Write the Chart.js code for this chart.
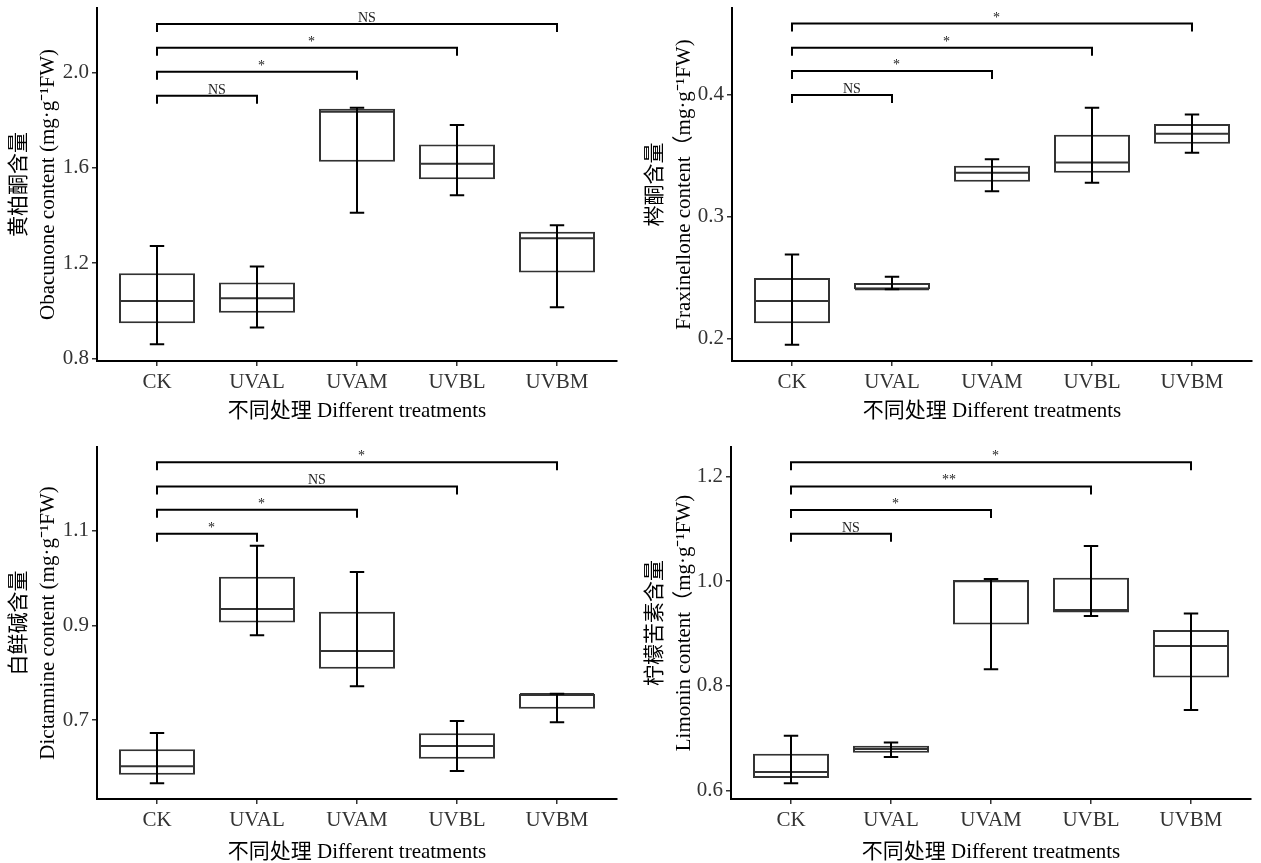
<!DOCTYPE html>
<html><head><meta charset="utf-8">
<script src="https://cdn.jsdelivr.net/npm/chart.js@4.4.0/dist/chart.umd.min.js"></script>
<style>
html,body{margin:0;padding:0;background:#fff;width:1261px;height:863px;overflow:hidden;position:relative}
.p{position:absolute}
</style></head><body>
<div class="p" style="left:0;top:0;width:630px;height:430px"><canvas id="c1"></canvas></div>
<div class="p" style="left:630px;top:0;width:631px;height:430px"><canvas id="c2"></canvas></div>
<div class="p" style="left:0;top:430px;width:630px;height:435px"><canvas id="c3"></canvas></div>
<div class="p" style="left:630px;top:430px;width:631px;height:435px"><canvas id="c4"></canvas></div>
<script>
const categories = ['CK', 'UVAL', 'UVAM', 'UVBL', 'UVBM'];

// 黄柏酮 Obacunone
const obaMin = [0.859, 0.930, 1.412, 1.485, 1.015];
const obaQ1  = [0.948, 0.992, 1.626, 1.553, 1.161];
const obaMed = [1.041, 1.053, 1.836, 1.618, 1.305];
const obaQ3  = [1.158, 1.119, 1.849, 1.699, 1.332];
const obaMax = [1.272, 1.186, 1.853, 1.780, 1.359];
const obaTicks = [0.8, 1.2, 1.6, 2.0];
const obaSigLabels = ['NS', '*', '*', 'NS'];
const obaSigHeights = [1.903, 2.004, 2.105, 2.205];

// 梣酮 Fraxinellone
const fraMin = [0.1948, 0.2403, 0.3208, 0.3277, 0.3523];
const fraQ1  = [0.2123, 0.2403, 0.3285, 0.3359, 0.3597];
const fraMed = [0.2307, 0.2403, 0.3359, 0.3444, 0.3679];
const fraQ3  = [0.2496, 0.2455, 0.3416, 0.3671, 0.3759];
const fraMax = [0.2688, 0.2505, 0.3471, 0.3893, 0.3838];
const fraTicks = [0.2, 0.3, 0.4];
const fraSigLabels = ['NS', '*', '*', '*'];
const fraSigHeights = [0.3997, 0.4195, 0.4386, 0.4584];

// 白鲜碱 Dictamnine
const dicMin = [0.5662, 0.8789, 0.7711, 0.5923, 0.6951];
const dicQ1  = [0.5845, 0.9063, 0.8085, 0.6183, 0.7240];
const dicMed = [0.6021, 0.9345, 0.8458, 0.6451, 0.7549];
const dicQ3  = [0.6380, 1.0028, 0.9289, 0.6718, 0.7549];
const dicMax = [0.6725, 1.0683, 1.0127, 0.6979, 0.7556];
const dicTicks = [0.7, 0.9, 1.1];
const dicSigLabels = ['*', '*', 'NS', '*'];
const dicSigHeights = [1.0937, 1.1444, 1.1937, 1.2450];

// 柠檬苦素 Limonin
const limMin = [0.6137, 0.6639, 0.8318, 0.9335, 0.7536];
const limQ1  = [0.6238, 0.6722, 0.9170, 0.9400, 0.8159];
const limMed = [0.6353, 0.6792, 1.0000, 0.9450, 0.8763];
const limQ3  = [0.6703, 0.6855, 1.0022, 1.0067, 0.9068];
const limMax = [0.7046, 0.6919, 1.0041, 1.0671, 0.9380];
const limTicks = [0.6, 0.8, 1.0, 1.2];
const limSigLabels = ['NS', '*', '**', '*'];
const limSigHeights = [1.0906, 1.1358, 1.1809, 1.2273];

const FONT = "'Liberation Serif', 'Noto Sans CJK SC', serif";

const boxExtras = {
  id: 'boxExtras',
  afterDatasetsDraw(chart, args, o) {
    const ctx = chart.ctx;
    const xs = chart.scales.x, ys = chart.scales.y;
    const meta = chart.getDatasetMeta(0);
    ctx.save();
    meta.data.forEach((bar, i) => {
      const w = bar.width, cx = bar.x;
      // median
      ctx.strokeStyle = '#333';
      ctx.lineWidth = 2;
      const ym = ys.getPixelForValue(o.med[i]);
      ctx.beginPath();
      ctx.moveTo(cx - w / 2 + 1, ym); ctx.lineTo(cx + w / 2 - 1, ym);
      ctx.stroke();
      // whisker
      const y0 = ys.getPixelForValue(o.min[i]);
      const y1 = ys.getPixelForValue(o.max[i]);
      const cap = w * 0.095;
      ctx.strokeStyle = '#000';
      ctx.lineWidth = 2;
      ctx.beginPath();
      ctx.moveTo(cx, y0); ctx.lineTo(cx, y1);
      ctx.moveTo(cx - cap, y0); ctx.lineTo(cx + cap, y0);
      ctx.moveTo(cx - cap, y1); ctx.lineTo(cx + cap, y1);
      ctx.stroke();
    });
    // significance brackets (CK vs each treatment)
    const xl = xs.getPixelForValue(0);
    o.sigHeights.forEach((h, j) => {
      const xr = xs.getPixelForValue(j + 1);
      const yb = ys.getPixelForValue(h);
      ctx.strokeStyle = '#000';
      ctx.lineWidth = 2;
      ctx.beginPath();
      ctx.moveTo(xl, yb + 8); ctx.lineTo(xl, yb); ctx.lineTo(xr, yb); ctx.lineTo(xr, yb + 8);
      ctx.stroke();
      ctx.fillStyle = '#222';
      ctx.font = "14px " + FONT;
      ctx.textAlign = 'left';
      ctx.textBaseline = 'alphabetic';
      ctx.fillText(o.sigLabels[j], (xl + xr) / 2 + 1, yb - 2);
    });
    ctx.restore();
  }
};

function makeChart(id, cfg) {
  const data = categories.map((c, i) => ({ x: i, y: [cfg.q1[i], cfg.q3[i]] }));
  new Chart(document.getElementById(id), {
    type: 'bar',
    data: {
      datasets: [{
        data: data,
        backgroundColor: '#ffffff',
        borderColor: '#333333',
        borderWidth: 2,
        borderSkipped: false,
        barPercentage: 0.76,
        categoryPercentage: 1.0
      }]
    },
    options: {
      responsive: true,
      maintainAspectRatio: false,
      animation: false,
      layout: { padding: { top: cfg.padTop, right: cfg.padRight, left: 0, bottom: 0 } },
      plugins: {
        legend: { display: false },
        tooltip: { enabled: false },
        boxExtras: { min: cfg.min, med: cfg.med, max: cfg.max, sigLabels: cfg.sigLabels, sigHeights: cfg.sigHeights }
      },
      scales: {
        x: {
          type: 'linear',
          offset: false,
          min: -0.6, max: 4.6,
          afterBuildTicks: s => { s.ticks = categories.map((c, i) => ({ value: i })); },
          afterFit: s => { s.height = cfg.xHeight; s.paddingLeft = 0; s.paddingRight = 0; s.paddingTop = 0; s.paddingBottom = 0; },
          ticks: {
            autoSkip: false, maxRotation: 0, padding: 4,
            color: '#333',
            font: { family: FONT, size: 21 },
            callback: v => categories[v]
          },
          grid: { display: true, drawOnChartArea: false, drawTicks: true, tickLength: 5, color: '#333', lineWidth: 1.5, offset: false },
          border: { display: true, color: '#000', width: 2 },
          title: {
            display: true, text: '不同处理 Different treatments', color: '#000',
            font: { family: FONT, size: 21, lineHeight: 1.2 },
            padding: { top: 0, bottom: cfg.xTitlePad }
          }
        },
        y: {
          min: cfg.yMin, max: cfg.yMax,
          afterBuildTicks: s => { s.ticks = cfg.ticks.map(v => ({ value: v })); },
          afterFit: s => { s.width = cfg.yWidth; s.paddingTop = 0; s.paddingBottom = 0; s.paddingLeft = 0; s.paddingRight = 0; },
          ticks: {
            padding: 3, color: '#333',
            font: { family: FONT, size: 21 },
            callback: v => Number(v).toFixed(1)
          },
          grid: { display: true, drawOnChartArea: false, drawTicks: true, tickLength: 5, color: '#333', lineWidth: 1.5 },
          border: { display: true, color: '#000', width: 2 },
          title: {
            display: true, text: cfg.yTitle, color: '#000',
            font: { family: FONT, size: 21, lineHeight: 1.38 },
            padding: { top: cfg.yTitlePad, bottom: 0 }
          }
        }
      }
    },
    plugins: [boxExtras]
  });
}

makeChart('c1', {
  min: obaMin, q1: obaQ1, med: obaMed, q3: obaQ3, max: obaMax,
  ticks: obaTicks, sigLabels: obaSigLabels, sigHeights: obaSigHeights,
  yMin: 0.789, yMax: 2.272,
  yTitle: ['黄柏酮含量', 'Obacunone content (mg·g⁻¹FW)'],
  padTop: 8, padRight: 13, yWidth: 97, xHeight: 69, xTitlePad: 6, yTitlePad: 5
});
makeChart('c2', {
  min: fraMin, q1: fraQ1, med: fraMed, q3: fraQ3, max: fraMax,
  ticks: fraTicks, sigLabels: fraSigLabels, sigHeights: fraSigHeights,
  yMin: 0.1814, yMax: 0.4712,
  yTitle: ['梣酮含量', 'Fraxinellone content（mg·g⁻¹FW)'],
  padTop: 8, padRight: 9, yWidth: 102, xHeight: 69, xTitlePad: 6, yTitlePad: 11
});
makeChart('c3', {
  min: dicMin, q1: dicQ1, med: dicMed, q3: dicQ3, max: dicMax,
  ticks: dicTicks, sigLabels: dicSigLabels, sigHeights: dicSigHeights,
  yMin: 0.533, yMax: 1.277,
  yTitle: ['白鲜碱含量', 'Dictamnine content (mg·g⁻¹FW)'],
  padTop: 17, padRight: 13, yWidth: 97, xHeight: 66, xTitlePad: 0, yTitlePad: 5
});
makeChart('c4', {
  min: limMin, q1: limQ1, med: limMed, q3: limQ3, max: limMax,
  ticks: limTicks, sigLabels: limSigLabels, sigHeights: limSigHeights,
  yMin: 0.5838, yMax: 1.2563,
  yTitle: ['柠檬苦素含量', 'Limonin content（mg·g⁻¹FW)'],
  padTop: 17, padRight: 10, yWidth: 101, xHeight: 66, xTitlePad: 0, yTitlePad: 11
});
</script>
</body></html>
